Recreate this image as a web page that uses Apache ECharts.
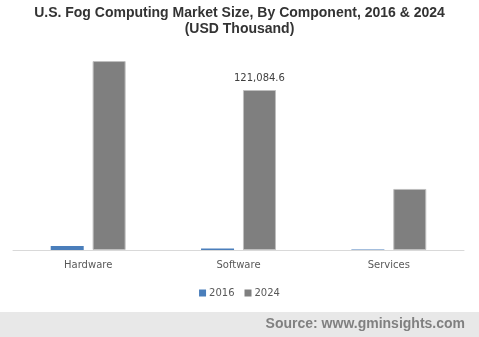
<!DOCTYPE html>
<html><head><meta charset="utf-8">
<script src="https://cdn.jsdelivr.net/npm/echarts@6/dist/echarts.min.js"></script>
<style>html,body{margin:0;padding:0;background:#fff}#c{width:479px;height:337px}</style>
</head><body><div id="c"></div>
<script>
const categories = ['Hardware', 'Software', 'Services'];
const values2016 = [3000, 1100, 400];
const values2024 = [143000, 121084.6, 46200];
const labelIndex = 1;

const chart = echarts.init(document.getElementById('c'));
chart.setOption({
  animation: false,
  title: {
    text: 'U.S. Fog Computing Market Size, By Component, 2016 & 2024\n(USD Thousand)',
    left: 'center', top: 0,
    textStyle: { fontFamily: 'Liberation Sans', fontWeight: 'bold', fontSize: 14, color: '#333', lineHeight: 16 }
  },
  legend: {
    top: 283, left: 'center', itemWidth: 7, itemHeight: 7, itemGap: 10,
    icon: 'rect',
    itemStyle: { borderWidth: 0 },
    textStyle: { fontFamily: 'DejaVu Sans', fontSize: 10, color: '#595959', padding: [0,0,0,-2] },
    data: ['2016', '2024']
  },
  grid: { left: 13, right: 15, top: 50, bottom: 87 },
  xAxis: {
    type: 'category', data: categories,
    axisLine: { lineStyle: { color: '#d9d9d9', width: 1 } },
    axisTick: { show: false },
    axisLabel: { fontFamily: 'DejaVu Sans', fontSize: 10, color: '#595959', margin: 10 }
  },
  yAxis: { type: 'value', min: 0, max: 151360, show: false, splitLine: { show: false } },
  series: [
    { name: '2016', type: 'bar', data: values2016, barWidth: 33, barGap: '27%',
      itemStyle: { color: '#4a7ebb' } },
    { name: '2024', type: 'bar', data: values2024.map((v, i) => i === labelIndex ? {
        value: v, label: { show: true, position: 'top', distance: 7,
          formatter: p => p.value.toLocaleString('en-US', { minimumFractionDigits: 1 }),
          fontFamily: 'DejaVu Sans', fontSize: 10, color: '#404040' } } : v),
      barWidth: 33,
      itemStyle: { color: '#7f7f7f', borderColor: '#bfbfbf', borderWidth: 1 } }
  ],
  graphic: [
    { type: 'rect', left: 0, top: 312, shape: { width: 479, height: 25 }, style: { fill: '#e8e8e8' }, z: -1 },
    { type: 'text', right: 14, top: 317,
      style: { text: 'Source: www.gminsights.com', fill: '#808080', font: 'bold 14px "Liberation Sans"' } }
  ]
});
</script></body></html>
